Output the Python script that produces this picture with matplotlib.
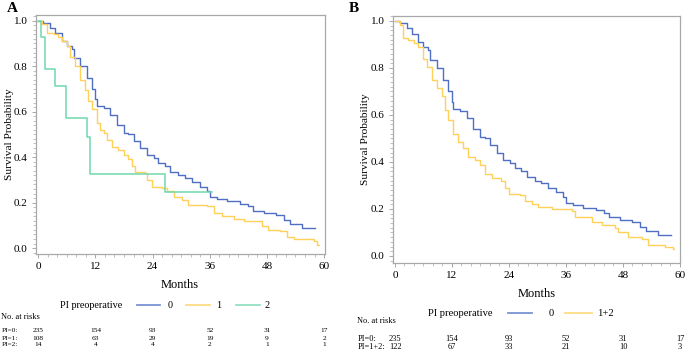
import matplotlib
matplotlib.use("Agg")
import matplotlib.pyplot as plt
from matplotlib.ticker import MultipleLocator
from matplotlib.lines import Line2D

plt.rcParams['font.family'] = ['Liberation Serif', 'DejaVu Serif']

W, H = 685, 353

# Kaplan-Meier curves (months, survival)
t_pi0 = [0, 1, 2.5, 3.5, 4.9, 6, 7, 7.4, 8.8, 10.2, 11.2, 11.9, 12.3, 13.7, 15.1, 16.5,
         17.9, 18.9, 20, 21.4, 22.8, 24.2, 25.2, 26.6, 27.7, 29.4, 30.8, 32.2, 34,
         35.4, 36.1, 37.5, 39.6, 42.4, 44.1, 45.1, 47.3, 50, 51.5, 52.9, 55.3, 58.1]
s_pi0 = [1.0, 0.99, 0.97, 0.945, 0.91, 0.89, 0.875, 0.835, 0.80, 0.75, 0.70, 0.655,
         0.625, 0.615, 0.585, 0.54, 0.505, 0.50, 0.47, 0.44, 0.41, 0.395, 0.375, 0.36,
         0.335, 0.32, 0.31, 0.29, 0.27, 0.25, 0.225, 0.215, 0.205, 0.195, 0.183, 0.165,
         0.155, 0.146, 0.125, 0.107, 0.088, 0.088]

t_pi1 = [0, 0.7, 1.75, 3.2, 4.2, 4.9, 6, 6.7, 7.7, 8.8, 9.8, 10.5, 11.2, 12.3, 13, 13.7,
         14.4, 15.4, 16.8, 17.9, 18.9, 19.6, 20.3, 22.4, 22.8, 23.8, 25.9, 27, 28.4,
         30.1, 31.5, 35.4, 36.8, 38.5, 41, 43.1, 46.9, 48.3, 50.8, 52.2, 53.6, 57.8,
         58.5, 59.0]
s_pi1 = [1.0, 0.985, 0.945, 0.94, 0.93, 0.91, 0.89, 0.84, 0.80, 0.74, 0.695, 0.645,
         0.61, 0.55, 0.52, 0.505, 0.475, 0.445, 0.43, 0.41, 0.39, 0.36, 0.335, 0.33,
         0.30, 0.27, 0.265, 0.25, 0.225, 0.21, 0.19, 0.183, 0.155, 0.14, 0.13, 0.117,
         0.095, 0.08, 0.073, 0.05, 0.04, 0.03, 0.015, 0.015]

t_pi2 = [0, 0.5, 1.4, 3.5, 5.8, 10.3, 10.9, 26.7, 36.5]
s_pi2 = [1.0, 0.929, 0.786, 0.714, 0.571, 0.49, 0.327, 0.245, 0.245]

t_pi12 = [0, 1.05, 1.75, 2.8, 3.9, 4.9, 5.96, 6.7, 7.7, 8.8, 9.8, 10.5, 11.2, 12.3, 13.3,
          14.4, 15.4, 16.8, 17.9, 18.9, 20.4, 22.4, 23.2, 23.9, 26.3, 27.4, 28.8, 30.2,
          33, 37.2, 37.9, 41.4, 43.5, 46.3, 47, 49.1, 52, 53.3, 56.8, 58.6, 58.8]
s_pi12 = [1.0, 0.983, 0.926, 0.92, 0.905, 0.89, 0.84, 0.805, 0.75, 0.715, 0.68, 0.62,
          0.58, 0.52, 0.485, 0.46, 0.42, 0.41, 0.385, 0.35, 0.33, 0.32, 0.29, 0.265,
          0.26, 0.235, 0.22, 0.21, 0.20, 0.19, 0.165, 0.145, 0.13, 0.12, 0.10, 0.08,
          0.07, 0.047, 0.04, 0.03, 0.03]

risk_times = [0, 12, 24, 36, 48, 60]
risk_a = {"PI=0:": [235, 154, 93, 52, 31, 17],
          "PI=1:": [108, 63, 29, 19, 9, 2],
          "PI=2:": [14, 4, 4, 2, 1, 1]}
risk_b = {"PI=0:": [235, 154, 93, 52, 31, 17],
          "PI=1+2:": [122, 67, 33, 21, 10, 3]}

c_blue = "#4f6fc2"
c_yel = "#ffd05a"
c_grn = "#6fd8ae"
c_spine = "#a8a8a8"


def px(x, y):
    return x / W, 1 - y / H


def style_axes(ax, xlim, ylim):
    ax.set_xlim(*xlim)
    ax.set_ylim(*ylim)
    ax.set_xticks(risk_times)
    ax.set_yticks([0, 0.2, 0.4, 0.6, 0.8, 1.0])
    ax.set_yticklabels(["0.0", "0.2", "0.4", "0.6", "0.8", "1.0"])
    ax.xaxis.set_minor_locator(MultipleLocator(2))
    ax.yaxis.set_minor_locator(MultipleLocator(0.02))
    for sp in ax.spines.values():
        sp.set_color(c_spine)
        sp.set_linewidth(0.9)
    ax.tick_params(which="major", length=3, width=0.7, color=c_spine, labelsize=8, pad=3)
    ax.tick_params(which="minor", length=2, width=0.5, color=c_spine)
    ax.set_ylabel("Survival Probability", fontsize=8.2)


fig = plt.figure(figsize=(6.85, 3.53), dpi=100)

# Panel A
l, t = px(36, 15)
r, b = px(325, 254)
axA = fig.add_axes([l, b, r - l, t - b])
axA.step(t_pi0, s_pi0, where="post", color=c_blue, lw=1)
axA.step(t_pi1, s_pi1, where="post", color=c_yel, lw=1)
axA.step(t_pi2, s_pi2, where="post", color=c_grn, lw=1.1)
style_axes(axA, (-0.48, 60.2), (-0.026, 1.025))
axA.yaxis.set_label_coords((px(14, 0)[0] - l) / (r - l), 0.5)

# Panel B
l2, t2 = px(393, 16)
r2, b2 = px(680, 263)
axB = fig.add_axes([l2, b2, r2 - l2, t2 - b2])
axB.step(t_pi0, s_pi0, where="post", color=c_blue, lw=1)
axB.step(t_pi12, s_pi12, where="post", color=c_yel, lw=1)
style_axes(axB, (-0.42, 60.0), (-0.030, 1.021))
axB.yaxis.set_label_coords((px(370, 0)[0] - l2) / (r2 - l2), 0.5)

fig.text(*px(12, 8), "A", fontsize=11, fontweight="bold", ha="center", va="center")
fig.text(*px(354, 9), "B", fontsize=11, fontweight="bold", ha="center", va="center")

fig.text(*px(180, 285), "Months", fontsize=9, ha="center", va="center")
fig.text(*px(537, 294), "Months", fontsize=9, ha="center", va="center")


def legend_row(y, label_x, fs, items):
    fig.text(*px(label_x, y), "PI preoperative", fontsize=fs, ha="left", va="center")
    for x0, x1, xt, col, lab in items:
        fig.add_artist(Line2D([x0 / W, x1 / W], [1 - y / H] * 2, color=col, lw=1.3,
                              alpha=0.75, transform=fig.transFigure))
        fig.text(*px(xt, y), lab, fontsize=fs, ha="center", va="center")


legend_row(305, 60, 7.3, [(137, 160, 170, c_blue, "0"), (186, 210, 219, c_yel, "1"),
                          (236, 260, 267, c_grn, "2")])
legend_row(313, 428, 7.6, [(508, 532, 551, c_blue, "0"), (565, 592, 605, c_yel, "1+2")])


def risk_table(x_lab, y_head, y_rows, x_ticks, table, fs):
    fig.text(*px(x_lab, y_head), "No. at risks", fontsize=6, ha="left", va="center")
    for yy, (lab, vals) in zip(y_rows, table.items()):
        fig.text(*px(x_lab + 1, yy), lab, fontsize=fs, ha="left", va="center")
        for xx, v in zip(x_ticks, vals):
            fig.text(*px(xx, yy), str(v), fontsize=fs, ha="center", va="center")


xa = [38.3 + m * 4.762 for m in risk_times]
xb = [395 + m * 4.75 for m in risk_times]
risk_table(1, 317, [331, 338, 345], xa, risk_a, 5.3)
risk_table(357, 321, [339, 347], xb, risk_b, 6)

fig.savefig("out.png", dpi=100)
